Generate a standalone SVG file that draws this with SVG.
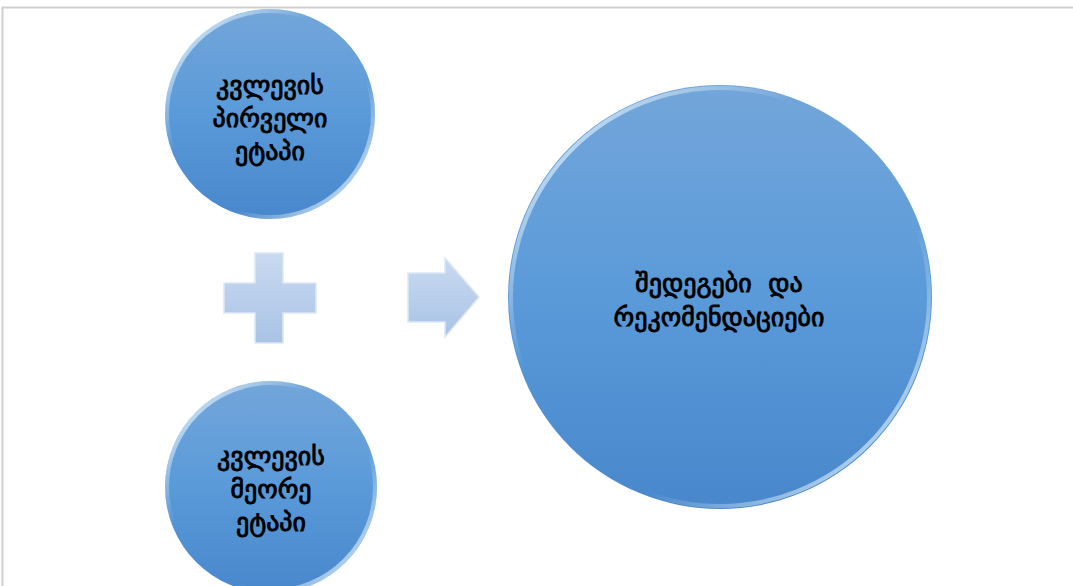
<svg xmlns="http://www.w3.org/2000/svg" width="1073" height="586" viewBox="0 0 1073 586">
<style>
.lbl{font-family:"DejaVu Sans",sans-serif;font-size:26px;font-weight:normal;fill:#000;stroke:#000;stroke-width:0.9;text-anchor:middle;white-space:pre}
.rim{fill:none;stroke:url(#rimg);stroke-width:4}
</style>
<defs>
<linearGradient id="ball" x1="0" y1="0" x2="0" y2="1">
<stop offset="0" stop-color="#73a6da"/>
<stop offset="0.5" stop-color="#5a9ad9"/>
<stop offset="1" stop-color="#4887cb"/>
</linearGradient>
<linearGradient id="rimg" x1="0" y1="0" x2="1" y2="1">
<stop offset="0" stop-color="#e0f6ff" stop-opacity="1"/>
<stop offset="0.35" stop-color="#ffffff" stop-opacity="0.0"/>
<stop offset="0.65" stop-color="#ffffff" stop-opacity="0.0"/>
<stop offset="1" stop-color="#e0f6ff" stop-opacity="1"/>
</linearGradient>
<linearGradient id="shape" x1="0" y1="0" x2="0" y2="1">
<stop offset="0" stop-color="#c9daf0"/>
<stop offset="1" stop-color="#a9c3e6"/>
</linearGradient>
</defs>
<rect x="0" y="0" width="1073" height="586" fill="#fff"/>
<path d="M2.5 586 V7.5 H1073" fill="none" stroke="#cfcfcf" stroke-width="2"/>
<g id="node-stage1">
<circle cx="270" cy="114" r="105" fill="url(#ball)"/>
<circle cx="270" cy="114" r="103" class="rim"/>
<text class="lbl" x="270" y="94">კვლევის</text>
<text class="lbl" x="270" y="127">პირველი</text>
<text class="lbl" x="270" y="160">ეტაპი</text>
</g>
<g id="node-stage2">
<circle cx="271" cy="487" r="106" fill="url(#ball)"/>
<circle cx="271" cy="487" r="104" class="rim"/>
<text class="lbl" x="271" y="465">კვლევის</text>
<text class="lbl" x="271" y="498">მეორე</text>
<text class="lbl" x="271" y="531">ეტაპი</text>
</g>
<g id="node-results">
<circle cx="720" cy="297" r="212" fill="url(#ball)"/>
<circle cx="720" cy="297" r="209" class="rim" stroke-width="5"/>
<text class="lbl" x="719" y="292" xml:space="preserve">შედეგები  და</text>
<text class="lbl" x="719" y="326">რეკომენდაციები</text>
</g>
<g id="connectors">
<g id="plus">
<path d="M255 253 H283 V283 H316 V313 H283 V343 H255 V313 H224 V283 H255 Z" fill="url(#shape)"/>
<path d="M255 253 H283 V283 H316 V313 H283 V343 H255 V313 H224 V283 H255 Z" fill="none" stroke="#dbe7f6" stroke-width="1.5"/>
</g>
<g id="arrow">
<path d="M408 273 H445 V258 L479 297 L445 337 V322 H408 Z" fill="url(#shape)"/>
<path d="M408 273 H445 V258 L479 297 L445 337 V322 H408 Z" fill="none" stroke="#dbe7f6" stroke-width="1.5"/>
</g>
</g>
</svg>
